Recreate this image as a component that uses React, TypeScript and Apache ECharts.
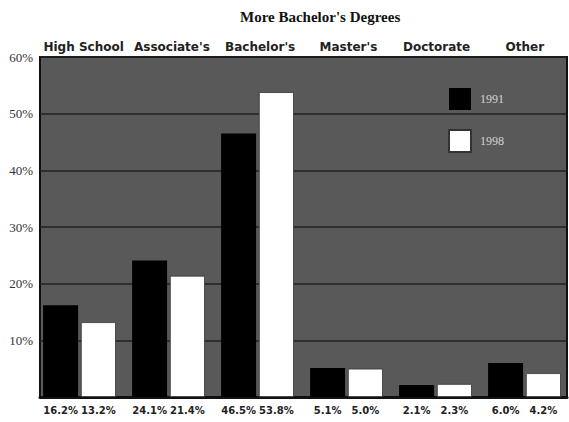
import React, { useEffect, useRef } from "react";
import * as echarts from "echarts";

const categories = ["High School", "Associate's", "Bachelor's", "Master's", "Doctorate", "Other"];
const values1991 = [16.2, 24.1, 46.5, 5.1, 2.1, 6.0];
const values1998 = [13.2, 21.4, 53.8, 5.0, 2.3, 4.2];
const yTicks = [0, 10, 20, 30, 40, 50, 60];
const titleText = "More Bachelor's Degrees";

export default function App() {
  const ref = useRef<HTMLDivElement>(null);
  useEffect(() => {
    if (!ref.current) return;
    const chart = echarts.init(ref.current, null, { renderer: "svg" });
    const barLabel = {
      show: true,
      position: "bottom",
      distance: 8,
      fontFamily: "DejaVu Sans",
      fontWeight: "bold",
      fontSize: 10,
      color: "#222",
      formatter: (p: any) => Number(p.value).toFixed(1) + "%",
    };
    chart.setOption({
      animation: false,
      backgroundColor: "#ffffff",
      title: {
        text: titleText,
        left: 240,
        top: 9,
        padding: 0,
        textStyle: {
          fontFamily: "Liberation Serif",
          fontWeight: "bold",
          fontSize: 15,
          color: "#111",
        },
      },
      legend: {
        orient: "vertical",
        left: 443,
        top: 83,
        itemWidth: 22,
        itemHeight: 22,
        itemGap: 19,
        icon: "rect",
        data: ["1991", "1998"],
        textStyle: {
          fontFamily: "Liberation Serif",
          fontSize: 12,
          color: "#d4d4d4",
          padding: [0, 0, 0, 4],
        },
      },
      grid: [
        {
          left: 40,
          top: 57,
          width: 527,
          height: 340,
          show: true,
          backgroundColor: "#595959",
          borderColor: "#111",
          borderWidth: 2,
        },
        { left: 35, top: 57, width: 538, height: 340 },
        { left: 39.5, top: 57, width: 542, height: 340 },
      ],
      xAxis: [
        {
          gridIndex: 0,
          type: "category",
          data: categories,
          axisLine: { show: true, lineStyle: { color: "#111", width: 3 } },
          axisTick: { show: false },
          axisLabel: { show: false },
          splitLine: { show: false },
        },
        {
          gridIndex: 1,
          type: "category",
          data: categories,
          show: false,
        },
        {
          gridIndex: 2,
          type: "category",
          data: categories,
          position: "top",
          axisLine: { show: false },
          axisTick: { show: false },
          axisLabel: {
            interval: 0,
            margin: 4,
            fontFamily: "DejaVu Sans",
            fontWeight: "bold",
            fontSize: 12,
            color: "#222",
          },
        },
      ],
      yAxis: [
        {
          gridIndex: 0,
          type: "value",
          min: yTicks[0],
          max: yTicks[yTicks.length - 1],
          interval: 10,
          axisLine: { show: false },
          axisTick: { show: false },
          axisLabel: {
            margin: 7,
            fontFamily: "Liberation Serif",
            fontSize: 13,
            color: "#333",
            formatter: (v: number) => (v === 0 ? "" : v + "%"),
          },
          splitLine: { show: true, lineStyle: { color: "#222", width: 1.5 } },
        },
        { gridIndex: 1, type: "value", min: 0, max: 60, interval: 10, show: false, splitLine: { show: false } },
        { gridIndex: 2, type: "value", min: 0, max: 60, interval: 10, show: false, splitLine: { show: false } },
      ],
      series: [
        {
          name: "1991",
          type: "bar",
          xAxisIndex: 1,
          yAxisIndex: 1,
          data: values1991,
          barWidth: 35,
          barGap: "8%",
          itemStyle: { color: "#000000" },
          label: barLabel,
        },
        {
          name: "1998",
          type: "bar",
          xAxisIndex: 1,
          yAxisIndex: 1,
          data: values1998,
          barWidth: 35,
          barGap: "8%",
          itemStyle: { color: "#ffffff", borderColor: "#333", borderWidth: 0.8 },
          label: barLabel,
        },
      ],
    });
    return () => chart.dispose();
  }, []);
  return (
    <div
      ref={ref}
      style={{ position: "fixed", left: 0, top: 0, width: 569, height: 422 }}
    />
  );
}
